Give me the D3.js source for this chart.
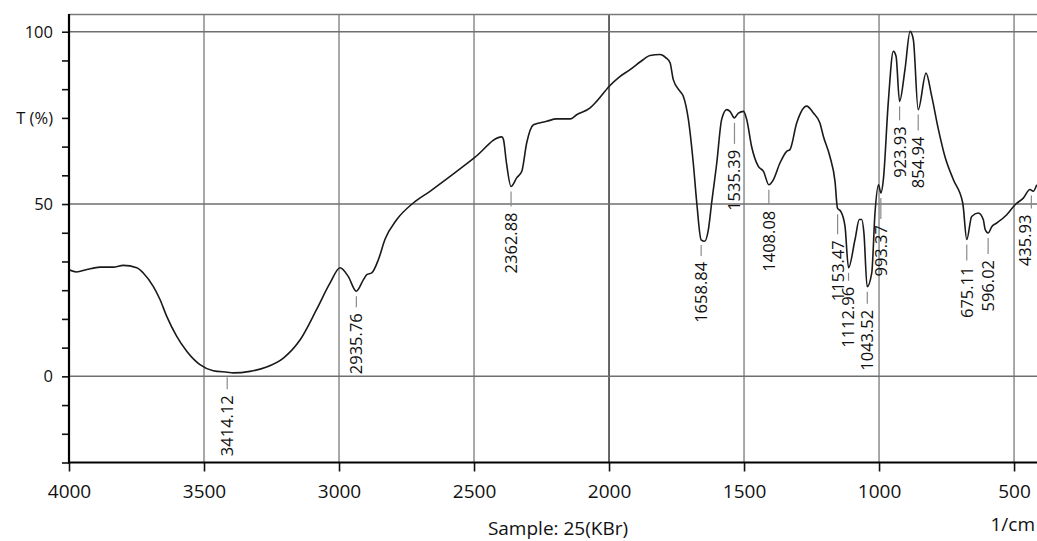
<!DOCTYPE html>
<html>
<head>
<meta charset="utf-8">
<script src="https://cdn.jsdelivr.net/npm/d3@7"></script>
<style>
  html, body { margin: 0; padding: 0; background: #fff; }
  svg { display: block; }
  text { font-family: "Open Sans", "Noto Sans", sans-serif; fill: #111; }
</style>
</head>
<body>
<svg id="chart" width="1037" height="541"></svg>
<script>
// ---- data ----
const wavenumbers = [4000,3972,3934,3885,3836,3799,3749,3725,3688,3663,3638,3601,3564,3515,3466,3414,3391,3330,3268,3206,3144,3083,3033,2996,2966,2936,2910,2897,2879,2854,2830,2786,2725,2663,2540,2496,2397,2391,2380,2363,2342,2323,2305,2280,2231,2194,2144,2120,2070,2046,1999,1960,1922,1880,1848,1811,1790,1774,1762,1737,1725,1706,1688,1675,1659,1646,1632,1620,1601,1583,1564,1552,1536,1521,1502,1490,1472,1447,1428,1408,1391,1367,1342,1330,1305,1268,1243,1219,1206,1182,1163,1154,1142,1126,1113,1089,1073,1064,1056,1044,1027,1015,1002,993,984,966,947,937,924,904,885,873,855,826,805,780,756,725,690,675,657,632,614,607,596,582,564,527,496,465,441,429,416];
const transmittance = [30.9,30.3,31,31.7,31.7,32.2,31.5,30,26.1,22.3,17.4,11.6,7.3,3.4,1.65,1.2,1,1.45,2.7,5.3,10.6,19.4,27.1,31.5,29,24.7,28,29.5,30,33.9,39.7,45.5,50.3,53.7,60.9,63.6,69.5,68.7,62,55.1,57.6,59.5,67.7,73,74,74.7,74.7,75.9,77.9,79.8,84.2,87,89,91.5,93.1,93.4,92.5,91,86.1,82.7,81.3,74.5,61.9,50.3,39.6,39.2,42.6,50.3,61.9,74.5,77.4,76.9,75,76.4,76.9,74.5,66.7,60.9,59.5,55.6,57.1,61.9,65.3,65.8,73.5,78.4,76.4,73.5,69.6,63.8,56.5,48.8,47.9,43.5,31.5,39.7,45.5,45.5,41.6,26,30,47.4,55.6,53.2,57.1,79.3,94.3,92.9,79.8,89,100.1,97.7,77.4,88,81.3,71.6,63.8,57.1,50.3,39.7,46.4,47.4,45.5,42.6,41.6,43.5,44.5,46.9,49.8,51.8,54.2,53.7,55.6];

const peakWavenumbers = [3414.12,2935.76,2362.88,1658.84,1535.39,1408.08,1153.47,1112.96,1043.52,993.37,923.93,854.94,675.11,596.02,435.93];
const peakLabels = ["3414.12","2935.76","2362.88","1658.84","1535.39","1408.08","1153.47","1112.96","1043.52","993.37","923.93","854.94","675.11","596.02","435.93"];
const peakT = [1.2,24.7,55.1,39.6,75,55.6,48.5,31.5,26,53.2,79.8,77.4,39.7,41.6,53.9];

const xTicks = [4000,3500,3000,2500,2000,1500,1000,500];
const yGridValues = [0,50,100];
const yTickLabels = {"0":"0","50":"50","100":"100","75":"T (%)"};
const xAxisTitle = "Sample: 25(KBr)";
const xUnit = "1/cm";

// ---- layout ----
const W = 1037, H = 541;
const mLeft = 69, mRight = 1037, mTop = 14.5, mBottom = 462.5;
const labelOffsetPx = [23,22,26,22,32,26,31,19,23,32,25,27,27,27,24];

const svg = d3.select("#chart");
const x = d3.scaleLinear().domain([4000, 415]).range([mLeft, mRight]);
const y = d3.scaleLinear().domain([-25, 105]).range([mBottom, mTop]);

// grid
const grid = svg.append("g");
grid.selectAll("line.v").data(xTicks.filter(d => d !== 4000)).enter().append("line")
  .attr("x1", d => x(d)).attr("x2", d => x(d))
  .attr("y1", mTop).attr("y2", mBottom)
  .attr("stroke", d => d === 2000 ? "#333" : "#8c8c8c")
  .attr("stroke-width", 1.5);
grid.selectAll("line.h").data(yGridValues).enter().append("line")
  .attr("x1", mLeft).attr("x2", mRight)
  .attr("y1", d => y(d)).attr("y2", d => y(d))
  .attr("stroke", "#6f6f6f").attr("stroke-width", 1.5);
grid.append("line").attr("x1", mLeft).attr("x2", mRight)
  .attr("y1", y(105)).attr("y2", y(105))
  .attr("stroke", "#7a7a7a").attr("stroke-width", 1.5);

// curve
svg.append("clipPath").attr("id", "clip").append("rect")
  .attr("x", mLeft).attr("y", mTop).attr("width", mRight - mLeft).attr("height", mBottom - mTop);
const pts = wavenumbers.map((w, i) => [w, transmittance[i]]);
const line = d3.line().x(d => x(d[0])).y(d => y(d[1])).curve(d3.curveMonotoneX);
svg.append("path").datum(pts)
  .attr("clip-path", "url(#clip)")
  .attr("d", line).attr("fill", "none")
  .attr("stroke", "#1a1a1a").attr("stroke-width", 1.6).attr("stroke-linejoin", "round");

// peak labels
const pk = svg.append("g");
peakWavenumbers.forEach((w, i) => {
  const px = x(w), py = y(peakT[i]);
  const tx = Math.min(px, W - 12);
  const textTop = py + labelOffsetPx[i];
  pk.append("line").attr("x1", px).attr("x2", px)
    .attr("y1", py + 5).attr("y2", textTop - 6)
    .attr("stroke", "#8a8a8a").attr("stroke-width", 1.2);
  pk.append("text")
    .attr("transform", `translate(${tx},${textTop}) rotate(-90)`)
    .attr("text-anchor", "end").attr("dy", "0.36em")
    .style("font-size", "16.5px")
    .text(peakLabels[i]);
});

// y axis
const yTickVals = d3.range(0, 16).map(k => -25 + k * 25 / 3);
const yAxis = d3.axisLeft(y).tickValues(yTickVals).tickSize(7).tickSizeOuter(0).tickPadding(9)
  .tickFormat(d => { const r = Math.round(d * 100) / 100; return yTickLabels[String(r)] || ""; });
const gy = svg.append("g").attr("transform", `translate(${mLeft},0)`).call(yAxis);
gy.select(".domain").remove();
gy.selectAll(".tick line").attr("stroke", "#111").attr("stroke-width", 1.6);
gy.selectAll(".tick text").style("font-size", "16.5px").attr("fill", "#111");
svg.append("line").attr("x1", mLeft).attr("x2", mLeft).attr("y1", mTop - 0.5).attr("y2", mBottom + 1)
  .attr("stroke", "#000").attr("stroke-width", 2.2);

// x axis
const xAxis = d3.axisBottom(x).tickValues(xTicks).tickSize(9).tickSizeOuter(0).tickPadding(13)
  .tickFormat(d3.format("d"));
const gx = svg.append("g").attr("transform", `translate(0,${mBottom})`).call(xAxis);
gx.select(".domain").remove();
gx.selectAll(".tick line").attr("stroke", "#111").attr("stroke-width", 1.6);
gx.selectAll(".tick text").style("font-size", "19px").attr("fill", "#111");
svg.append("line").attr("x1", mLeft - 1).attr("x2", mRight).attr("y1", mBottom).attr("y2", mBottom)
  .attr("stroke", "#000").attr("stroke-width", 2.2);

// titles
svg.append("text").attr("x", 558).attr("y", 535).attr("text-anchor", "middle")
  .style("font-size", "19px").text(xAxisTitle);
svg.append("text").attr("x", 1035).attr("y", 531).attr("text-anchor", "end")
  .style("font-size", "19px").text(xUnit);
</script>
</body>
</html>
